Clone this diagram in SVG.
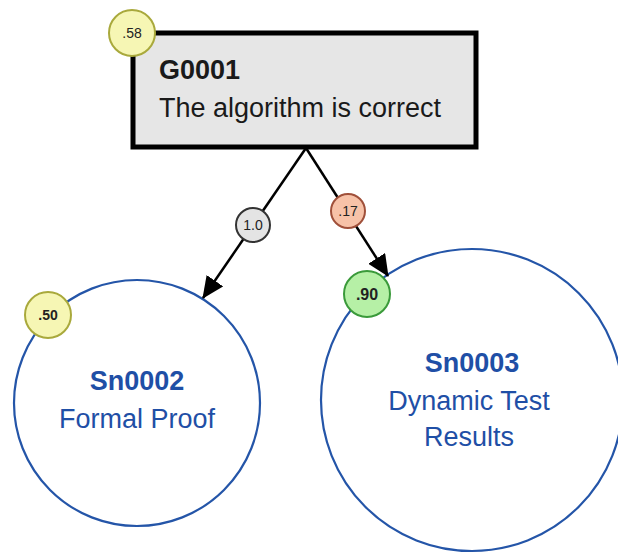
<svg xmlns="http://www.w3.org/2000/svg" width="618" height="553" viewBox="0 0 618 553">
  <style>
    text { font-family: "Liberation Sans", Arial, sans-serif; }
    .goal { fill: #e6e6e6; stroke: #000; stroke-width: 5; }
    .sol { fill: #fff; stroke: #2455a8; stroke-width: 2.2; }
    .gtxt { fill: #1a1a1a; font-size: 27px; }
    .stxt { fill: #1f4fa6; font-size: 27px; text-anchor: middle; }
    .bold { font-weight: bold; }
    .edge { stroke: #000; stroke-width: 2.5; fill: none; }
    .badge { stroke-width: 2; }
    .btxt { font-size: 14px; text-anchor: middle; fill: #222; }
    .yellow { fill: #f6f6b4; stroke: #a9a93c; }
    .grey { fill: #e4e4e4; stroke: #333; }
    .orange { fill: #f7c2a8; stroke: #a0503a; }
    .green { fill: #b6f0a6; stroke: #3a9a3a; }
  </style>
  <defs>
    <marker id="arrow" markerUnits="userSpaceOnUse" markerWidth="22" markerHeight="20" refX="21" refY="10" orient="auto">
      <path d="M0,0 L22,10 L0,20 Z" fill="#000"/>
    </marker>
  </defs>

  <rect width="618" height="553" fill="#fff"/>

  <g id="G0001">
    <rect class="goal" x="133" y="33" width="343" height="114"/>
    <text class="gtxt bold" x="159" y="79">G0001</text>
    <text class="gtxt" x="159" y="117">The algorithm is correct</text>
    <circle class="badge yellow" cx="132" cy="33" r="23"/>
    <text class="btxt" x="132" y="38">.58</text>
  </g>

  <g id="Sn0002">
    <circle class="sol" cx="137" cy="403" r="123"/>
    <text class="stxt bold" x="137" y="390">Sn0002</text>
    <text class="stxt" x="137" y="428">Formal Proof</text>
  </g>

  <g id="Sn0003">
    <circle class="sol" cx="472" cy="400" r="151"/>
    <text class="stxt bold" x="472" y="372">Sn0003</text>
    <text class="stxt" x="469" y="410">Dynamic Test</text>
    <text class="stxt" x="469" y="446">Results</text>
  </g>

  <g id="connectors">
    <line class="edge" x1="306" y1="148" x2="203" y2="298" marker-end="url(#arrow)"/>
    <line class="edge" x1="306" y1="148" x2="388" y2="276" marker-end="url(#arrow)"/>
    <circle class="badge grey" cx="253" cy="225" r="17"/>
    <text class="btxt" x="253" y="230">1.0</text>
    <circle class="badge orange" cx="348" cy="211" r="17"/>
    <text class="btxt" x="348" y="216">.17</text>
  </g>

  <g id="badges">
    <circle class="badge yellow" cx="48" cy="315" r="23"/>
    <text class="btxt bold" x="48" y="320">.50</text>
    <circle class="badge green" cx="367" cy="294" r="23"/>
    <text class="btxt bold" x="367" y="300" style="font-size:16px">.90</text>
  </g>
</svg>
